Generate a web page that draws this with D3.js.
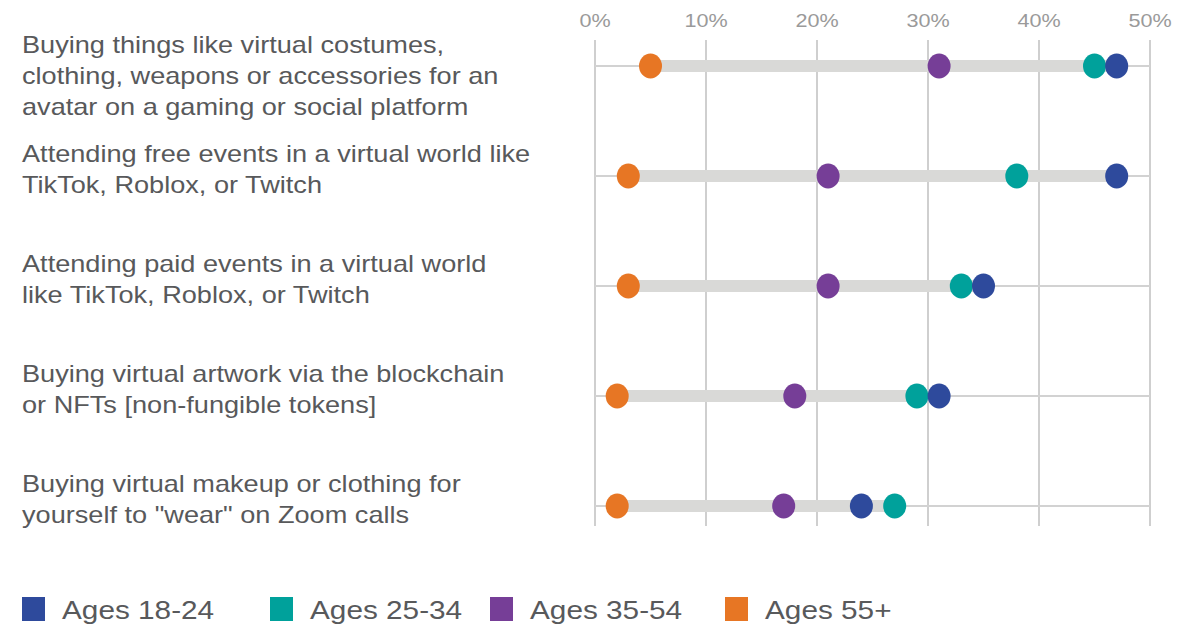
<!DOCTYPE html>
<html><head><meta charset="utf-8">
<script src="https://cdn.jsdelivr.net/npm/d3@7"></script>
<style>body{margin:0;background:#fff}svg{display:block}</style>
</head><body>
<svg id="c" width="1197" height="625"></svg>
<script>
const categories = [
  ["Buying things like virtual costumes,", "clothing, weapons or accessories for an", "avatar on a gaming or social platform"],
  ["Attending free events in a virtual world like", "TikTok, Roblox, or Twitch"],
  ["Attending paid events in a virtual world", "like TikTok, Roblox, or Twitch"],
  ["Buying virtual artwork via the blockchain", "or NFTs [non-fungible tokens]"],
  ["Buying virtual makeup or clothing for", "yourself to \"wear\" on Zoom calls"]
];
const seriesNames = ["Ages 18-24", "Ages 25-34", "Ages 35-54", "Ages 55+"];
const seriesColors = ["#2e4a9c", "#00a19b", "#763e97", "#e77624"];
const ages18_24 = [47, 47, 35, 31, 24];
const ages25_34 = [45, 38, 33, 29, 27];
const ages35_54 = [31, 21, 21, 18, 17];
const ages55 = [5, 3, 3, 2, 2];
const seriesValues = [ages18_24, ages25_34, ages35_54, ages55];
const tickValues = [0, 10, 20, 30, 40, 50];

const FONT = "Liberation Sans, Arial, sans-serif";
const SX = 1.18;
const svg = d3.select("#c");
const x = d3.scaleLinear().domain([0, 50]).range([595, 1150]);
const y = d3.scalePoint().domain(d3.range(categories.length)).range([66, 506]);

// grid
svg.append("g").selectAll("line").data(tickValues).join("line")
  .attr("x1", d => x(d)).attr("x2", d => x(d))
  .attr("y1", 40).attr("y2", 526)
  .attr("stroke", "#cfcfcf").attr("stroke-width", 2);

// tick labels
svg.append("g").selectAll("text").data(tickValues).join("text")
  .attr("transform", d => `translate(${x(d)},27) scale(1.2,1)`)
  .attr("text-anchor", "middle")
  .attr("font-family", FONT)
  .attr("font-size", 18).attr("fill", "#9a9a9a")
  .text(d => d + "%");

const rows = svg.append("g").selectAll("g").data(categories).join("g")
  .attr("transform", (d, i) => `translate(0,${y(i)})`);

rows.append("line")
  .attr("x1", x(0)).attr("x2", x(50))
  .attr("stroke", "#d2d2d2").attr("stroke-width", 2);

rows.append("line")
  .attr("x1", (d, i) => x(d3.min(seriesValues, s => s[i])))
  .attr("x2", (d, i) => x(d3.max(seriesValues, s => s[i])))
  .attr("stroke", "#d9d9d7").attr("stroke-width", 12);

[3, 2, 1, 0].forEach(si => {
  rows.append("ellipse")
    .attr("cx", (d, i) => x(seriesValues[si][i]))
    .attr("cy", 0).attr("rx", 11.5).attr("ry", 12.5)
    .attr("fill", seriesColors[si]);
});

// labels
rows.append("text")
  .attr("transform", `translate(22,0) scale(${SX},1)`)
  .attr("font-family", FONT)
  .attr("font-size", 23).attr("fill", "#58595b")
  .each(function(d) {
    const t = d3.select(this);
    const lh = 31;
    const start = d.length === 3 ? -13 : -14;
    d.forEach((line, k) => {
      t.append("tspan").attr("x", 0).attr("y", start + k * lh).text(line);
    });
  });

// legend
const legX = [22, 270, 490, 725];
const leg = svg.append("g").selectAll("g").data(seriesNames).join("g")
  .attr("transform", (d, i) => `translate(${legX[i]},597)`);
leg.append("rect").attr("width", 23).attr("height", 24).attr("fill", (d, i) => seriesColors[i]);
leg.append("text").attr("transform", "translate(40,22) scale(1.19,1)")
  .attr("font-family", FONT)
  .attr("font-size", 25).attr("fill", "#58595b")
  .text(d => d);
</script>
</body></html>
